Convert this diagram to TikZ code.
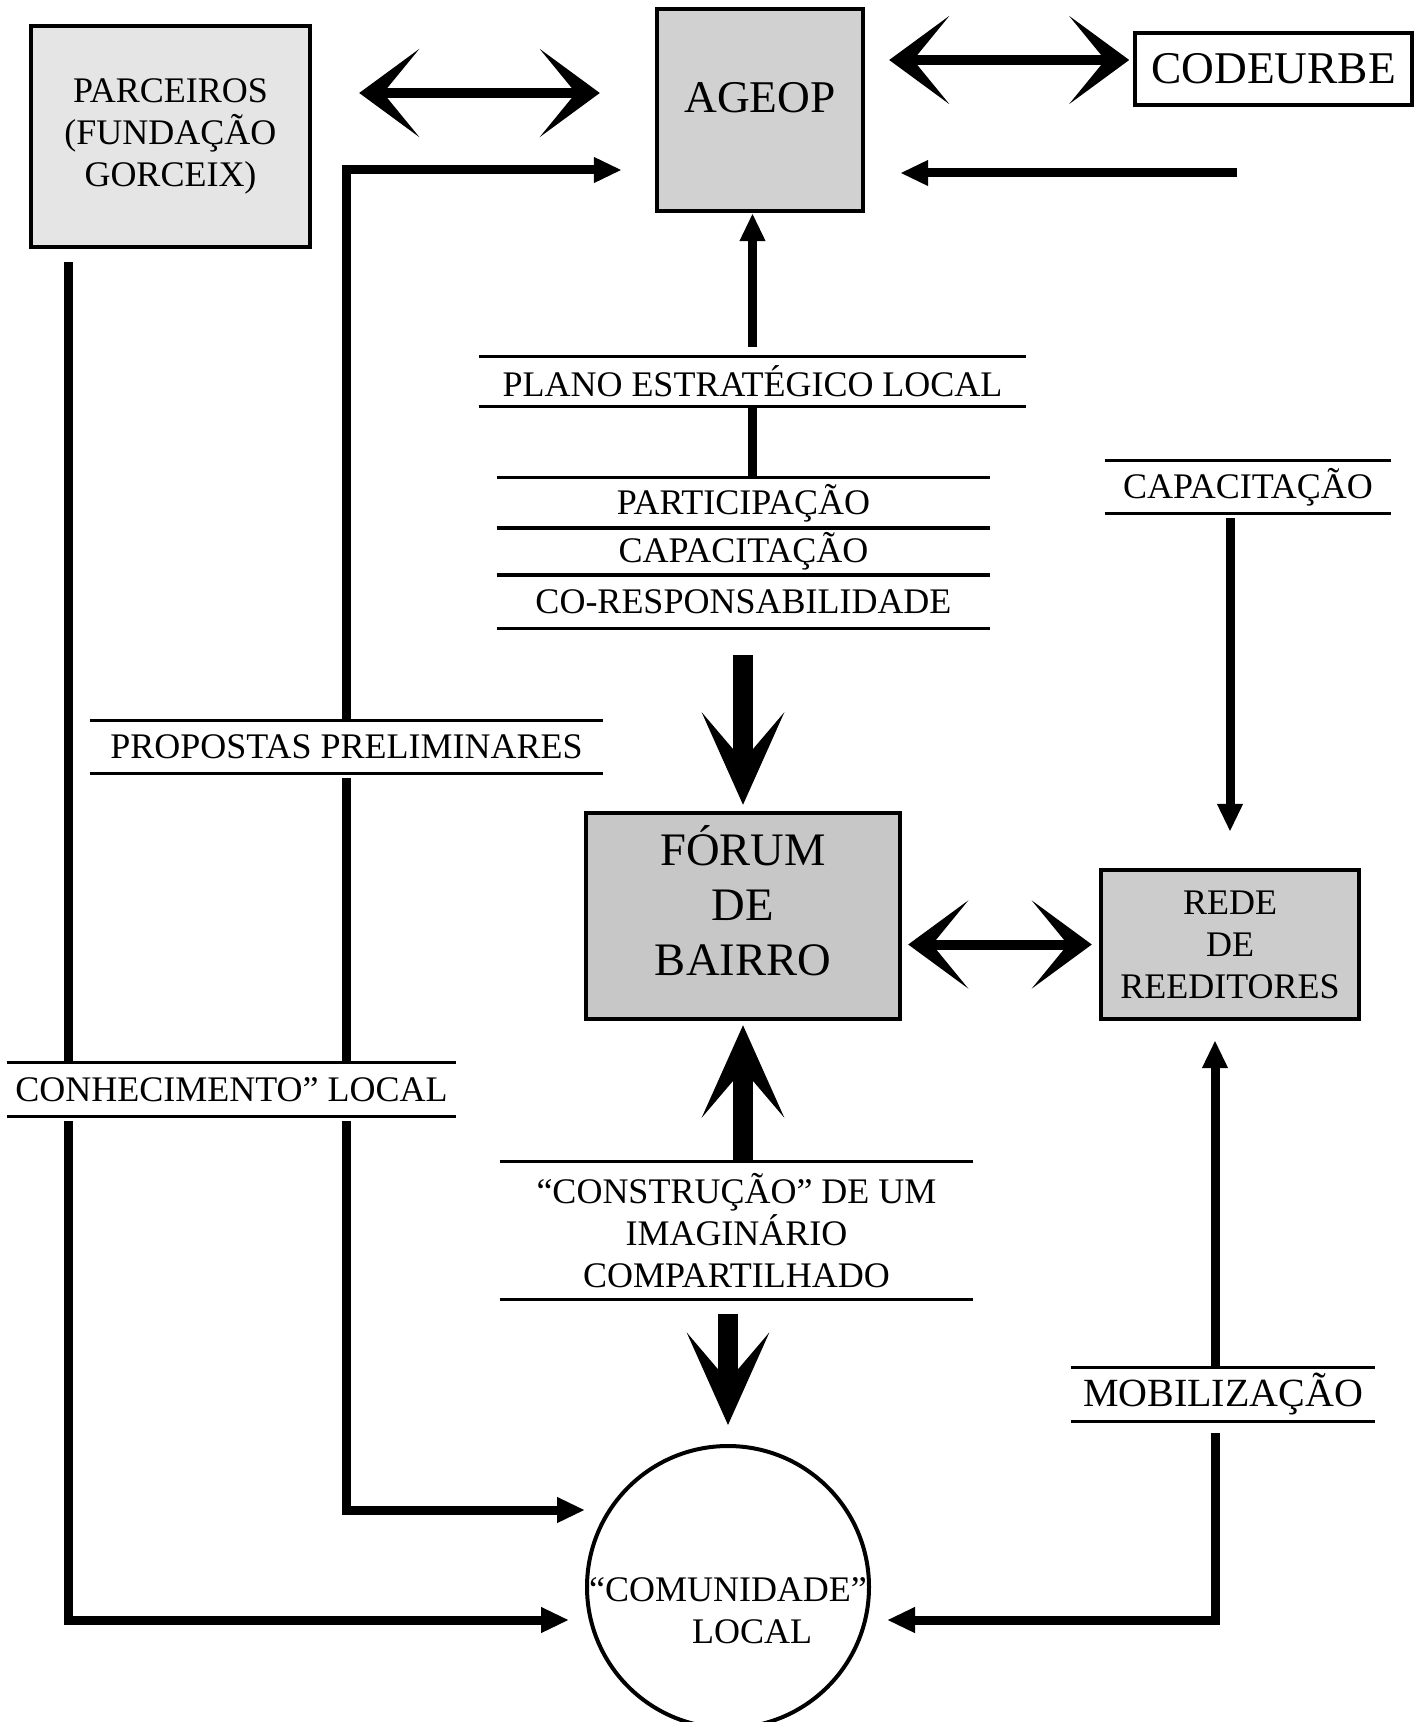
\documentclass[tikz,border=0pt]{standalone}
\usepackage{fontspec}
\setmainfont{Liberation Serif}
\usetikzlibrary{arrows.meta}

\tikzset{
  caixa/.style={draw, line width=2.2pt, rectangle, align=center, inner sep=0pt},
  faixa/.style={inner sep=0pt, align=center, append after command={
    (\tikzlastnode.north west) edge[line width=1.6pt] (\tikzlastnode.north east)
    (\tikzlastnode.south west) edge[line width=1.6pt] (\tikzlastnode.south east)}},
  linha/.style={line width=4.5pt},
  seta/.style={linha, -{Triangle[length=14pt,width=12pt]}},
  setagrande/.style={line width=10pt, -{Stealth[length=46pt,width=41pt,inset=24pt]}},
  setadupla/.style={line width=5pt,
    {Stealth[length=30pt,width=44pt,inset=18pt]}-{Stealth[length=30pt,width=44pt,inset=18pt]}}
}

\begin{document}
\begin{tikzpicture}[x=0.5pt, y=-0.5pt, every node/.style={font=\fontsize{18}{21}\selectfont}]
  \useasboundingbox (0,0) rectangle (1423,1722);

  % caixas
  \node[caixa, fill=black!10, minimum width=139.5pt, minimum height=110.5pt] (parc) at (170.5,136.5) {PARCEIROS\\(FUNDAÇÃO\\GORCEIX)};
  \node[caixa, fill=black!18, minimum width=103pt, minimum height=101pt, font=\fontsize{22.7}{26}\selectfont, text depth=13pt] (ageop) at (760,110) {AGEOP};
  \node[caixa, line width=1.8pt, minimum width=138.5pt, minimum height=36pt, font=\fontsize{22.7}{26}\selectfont] (codeurbe) at (1273.5,69) {CODEURBE};
  \node[caixa, fill=black!22, minimum width=157pt, minimum height=103pt, font=\fontsize{23.3}{27.5}\selectfont, text depth=16pt] (forum) at (743,916) {FÓRUM\\DE\\BAIRRO};
  \node[caixa, fill=black!20, minimum width=129pt, minimum height=74.5pt] (rede) at (1230,944.5) {REDE\\DE\\REEDITORES};
  \node[circle, draw, line width=2pt, minimum size=141pt, inner sep=0pt,
    label={[align=center, yshift=-12pt]center:“COMUNIDADE”\\\hspace*{24pt}LOCAL}] (com) at (728,1587) {};

  % faixas
  \node[faixa, minimum width=273.5pt, minimum height=24.5pt] (plano) at (752.5,381.5) {PLANO ESTRATÉGICO LOCAL};
  \node[faixa, minimum width=246.5pt, minimum height=25pt] (part) at (743.5,503) {PARTICIPAÇÃO};
  \node[faixa, minimum width=246.5pt, minimum height=23.5pt] (capac) at (743.5,551.5) {CAPACITAÇÃO};
  \node[faixa, minimum width=246.5pt, minimum height=26.5pt] (cores) at (743.5,601.5) {CO-RESPONSABILIDADE};
  \node[faixa, minimum width=256.5pt, minimum height=26pt] (prop) at (346.5,747) {PROPOSTAS PRELIMINARES};
  \node[faixa, minimum width=143pt, minimum height=26pt] (capr) at (1248,487) {CAPACITAÇÃO};
  \node[faixa, minimum width=224.5pt, minimum height=26.5pt] (conhec) at (231.5,1089.5) {CONHECIMENTO” LOCAL};
  \node[faixa, minimum width=236.5pt, minimum height=68.5pt] (constr) at (736.5,1230.5) {“CONSTRUÇÃO” DE UM\\IMAGINÁRIO\\COMPARTILHADO};
  \node[faixa, minimum width=152pt, minimum height=26.5pt, font=\fontsize{20}{24}\selectfont] (mobil) at (1223,1394.5) {MOBILIZAÇÃO};

  % cantos
  \coordinate (c1) at (346,170);
  \coordinate (c2) at (346,1510);
  \coordinate (e1) at (68,1620);
  \coordinate (d1) at (1215,1620);
  \coordinate (dir) at (1237,173);

  % topo
  \draw[setadupla, shorten <=23.5pt, shorten >=27.5pt] ([yshift=21.75pt]parc.east) -- ([yshift=8.5pt]ageop.west);
  \draw[setadupla, shorten <=12pt, shorten >=2pt] ([yshift=25pt]ageop.east) -- ([yshift=4.5pt]codeurbe.west);
  \draw[seta, shorten >=17.5pt] (dir) -- (dir -| ageop.east);
  \draw[seta, shorten <=5pt] (plano.north) -- (plano.north |- ageop.south);
  \draw[linha] (plano.south) -- (plano.south |- part.north);

  % forum
  \draw[setagrande, shorten <=13.5pt, shorten >=3pt] (forum.north |- cores.south) -- (forum.north);
  \draw[setagrande, shorten >=2pt] (forum.south |- constr.north) -- (forum.south);
  \draw[setagrande, shorten <=7.5pt, shorten >=9.5pt] (com.north |- constr.south) -- (com.north);
  \draw[setadupla, shorten <=3pt, shorten >=3.5pt] (forum.east |- rede.west) -- (rede.west);
  \draw[seta, shorten <=2.5pt, shorten >=18pt] (rede.north |- capr.south) -- (rede.north);

  % esquerda
  \draw[linha, shorten <=6.5pt] (e1 |- parc.south) -- (e1 |- conhec.north);
  \draw[seta, shorten <=2.5pt, shorten >=8pt] (e1 |- conhec.south) -- (e1) -- (e1 -| com.west);
  \draw[seta, shorten >=16.5pt] (c1 |- prop.north) -- (c1) -- (c1 -| ageop.west);
  \draw[linha, shorten <=2.5pt] (c1 |- prop.south) -- (c1 |- conhec.north);
  \draw[seta, shorten <=2.5pt] (c1 |- conhec.south) -- (c2) -- (c2 -| com.west);

  % direita
  \draw[seta, shorten >=9.5pt] (d1 |- mobil.north) -- (d1 |- rede.south);
  \draw[seta, shorten <=6pt, shorten >=8pt] (d1 |- mobil.south) -- (d1) -- (d1 -| com.east);
\end{tikzpicture}
\end{document}
